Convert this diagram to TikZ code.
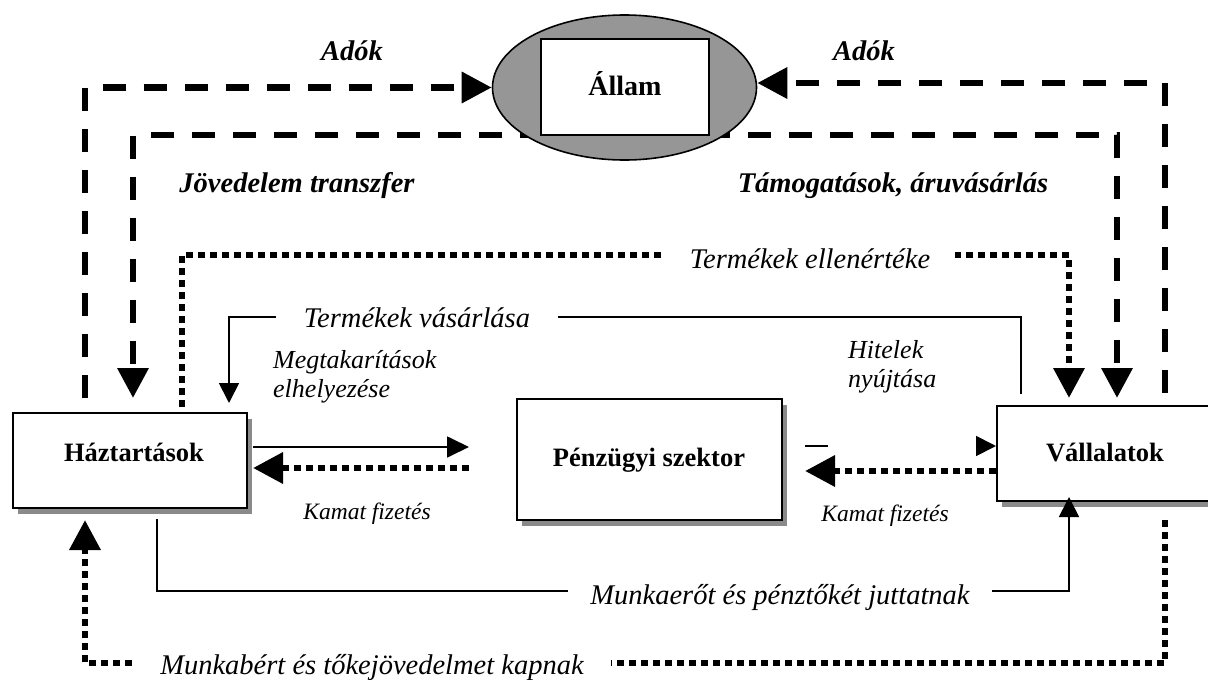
\documentclass[tikz,border=0pt]{standalone}
\usepackage{fontspec}
\setmainfont{Liberation Serif}
\usetikzlibrary{arrows.meta,shapes.geometric,shadows,backgrounds}

\definecolor{shadowgray}{HTML}{8A8A8A}
\definecolor{stategray}{HTML}{969696}

\begin{document}
\begin{tikzpicture}[x=1pt,y=-1pt,
  sectorbox/.style={rectangle, draw=black, line width=2pt, fill=white, inner sep=0pt,
    general shadow={fill=shadowgray, shadow xshift=5pt, shadow yshift=-6pt}},
  boxtext/.style={font=\fontsize{26.5}{30}\selectfont\bfseries, anchor=base, inner sep=0pt},
  flowlabel/.style={font=\fontsize{28.5}{33}\selectfont\itshape, anchor=base, fill=white, inner ysep=0pt},
  boldlabel/.style={font=\fontsize{28.5}{33}\selectfont\bfseries\itshape, anchor=base, inner sep=0pt},
  smalllabel/.style={font=\fontsize{26}{29}\selectfont\itshape, anchor=base west, inner sep=0pt, align=left},
  tinylabel/.style={font=\fontsize{23.5}{27}\selectfont\itshape, anchor=base, inner sep=0pt},
  heavydash/.style={line width=6.5pt, dash pattern=on 23pt off 18pt},
  heavydot/.style={line width=6.5pt, dash pattern=on 7pt off 5pt},
  thinline/.style={line width=1.8pt},
  bigtip/.style={-{Triangle[length=30pt,width=30pt]}},
  smalltip/.style={-{Triangle[length=20pt,width=20pt]}},
]
\path[use as bounding box] (0,0) rectangle (1208,680);
\clip (0,0) rectangle (1208,680);

% --- sectors ---
\node[ellipse, draw=black, line width=1.6pt, fill=stategray, inner sep=0pt,
      minimum width=264pt, minimum height=145pt] (allam) at (624.5,87.5) {};
\node[rectangle, draw=black, line width=2pt, fill=white, inner sep=0pt,
      minimum width=168pt, minimum height=96pt] (allamrect) at (625,87) {};
\node[boxtext, font=\fontsize{28}{32}\selectfont\bfseries] (allamtext) at (625,95) {Állam};

\node[sectorbox, minimum width=234pt, minimum height=95pt] (haz) at (130,460.5) {};
\node[boxtext] (haztext) at (134,461) {Háztartások};

\node[sectorbox, minimum width=265pt, minimum height=121pt] (penz) at (649.5,459.5) {};
\node[boxtext] (penztext) at (649,466) {Pénzügyi szektor};

\node[sectorbox, minimum width=218pt, minimum height=95pt] (vall) at (1106,453.5) {};
\node[boxtext] (valltext) at (1105,461) {Vállalatok};

% --- turning points and free ends ---
\coordinate (hzE) at ([xshift=5pt]haz.east);
\coordinate (adoL) at (85,398);
\coordinate (adoR) at (1165,393);
\coordinate (adoRc) at (1165,83);
\coordinate (jovC) at (133,135);
\coordinate (jovE) at (133,398);
\coordinate (tamC) at (1117,135);
\coordinate (tamE) at (1117,398);
\coordinate (te1) at (182,407);
\coordinate (te2) at (182,255);
\coordinate (te3) at (1069,255);
\coordinate (te4) at (1069,398);
\coordinate (tv1) at (1021,394);
\coordinate (tv2) at (1021,317);
\coordinate (tv3) at (229,317);
\coordinate (tv4) at (229,403);
\coordinate (meg) at (469,447);
\coordinate (kamL) at (469,468);
\coordinate (hitA) at (805,446);
\coordinate (hitB) at (828,446);
\coordinate (hitC) at (984,446);
\coordinate (kamR) at (805,471);
\coordinate (mu1) at (157,519);
\coordinate (mu2) at (157,591);
\coordinate (mu3) at (1069,591);
\coordinate (mu4) at (1069,497);
\coordinate (mb1) at (1165,520);
\coordinate (mb2) at (1165,663);
\coordinate (mb3) at (85,663);
\coordinate (mb4) at (85,520);

% --- transfers leaving the state (start hidden under the ellipse) ---
\begin{scope}[on background layer]
  \draw[heavydash, bigtip] (allam.center |- jovC) -- (jovC) -- (jovE);
  \draw[heavydash, bigtip] (allam.center |- tamC) -- (tamC) -- (tamE);
\end{scope}

% --- taxes ---
\draw[heavydash, bigtip] (adoL) -- (adoL |- allam.west) -- (allam.west);
\draw[heavydash, bigtip] (adoR) -- (adoRc) -- (allam.east |- adoRc);

% --- product market ---
\draw[heavydot, bigtip] (te1) -- (te2) -- (te3) -- (te4);
\draw[thinline, smalltip] (tv1) -- (tv2) -- (tv3) -- (tv4);

% --- financial sector ---
\draw[thinline, -{Triangle[length=22pt,width=21pt]}] (hzE |- meg) -- (meg);
\draw[heavydot, bigtip] (kamL) -- (hzE |- kamL);
\draw[thinline] (hitA) -- (hitB);
\draw[thinline, smalltip] (hitC) -- (vall.west |- hitC);
\draw[heavydot, bigtip] (vall.west |- kamR) -- (kamR);

% --- factor market ---
\draw[thinline, smalltip] (mu1) -- (mu2) -- (mu3) -- (mu4);
\draw[heavydot, bigtip] (mb1) -- (mb2) -- (mb3) -- (mb4);

% --- labels ---
\node[boldlabel] (l1) at (352,60) {Adók};
\node[boldlabel] (l2) at (864,60) {Adók};
\node[boldlabel] (l3) at (297,192) {Jövedelem transzfer};
\node[boldlabel] (l4) at (893,192) {Támogatások, áruvásárlás};
\node[flowlabel, inner xsep=25pt] (l5) at (810,268) {Termékek ellenértéke};
\node[flowlabel, inner xsep=28pt] (l6) at (417,327) {Termékek vásárlása};
\node[smalllabel] (l7) at (273,397) {Megtakarítások\\elhelyezése};
\node[tinylabel] (l8) at (367,519) {Kamat fizetés};
\node[smalllabel] (l9) at (848,387) {Hitelek\\nyújtása};
\node[tinylabel] (l10) at (885,521) {Kamat fizetés};
\node[flowlabel, inner xsep=22pt] (l11) at (780,604) {Munkaerőt és pénztőkét juttatnak};
\node[flowlabel, inner xsep=27pt] (l12) at (372,674) {Munkabért és tőkejövedelmet kapnak};
\end{tikzpicture}
\end{document}
